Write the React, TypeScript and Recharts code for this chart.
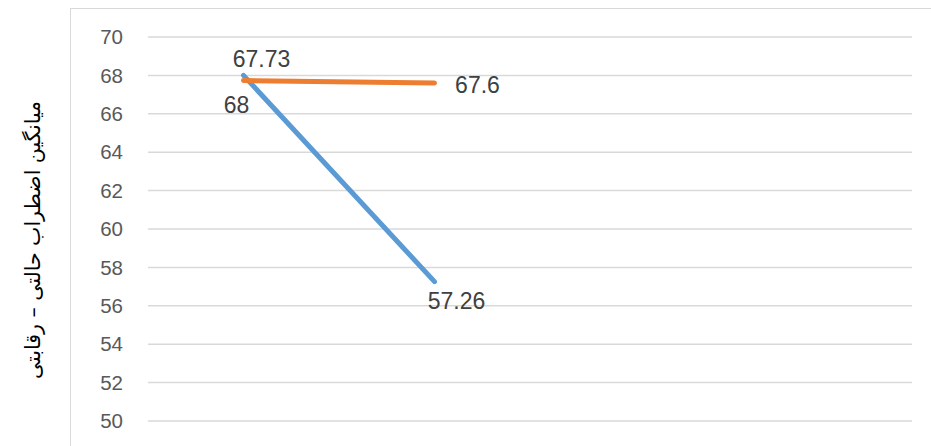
import React from "react";
import { LineChart, Line, XAxis, YAxis, CartesianGrid } from "recharts";

const categories = ["1", "2", "3", "4"];
const blueValues: (number | null)[] = [68, 57.26, null, null];
const orangeValues: (number | null)[] = [67.73, 67.6, null, null];
const yTicks = [50, 52, 54, 56, 58, 60, 62, 64, 66, 68, 70];
const yTitle = "میانگین اضطراب حالتی – رقابتی";

const data = categories.map((c, i) => ({
  name: c,
  blue: blueValues[i],
  orange: orangeValues[i],
}));

const FONT = "'Liberation Sans', Arial, 'DejaVu Sans', sans-serif";

const blueOffsets = [
  { dx: -7, dy: 30 },
  { dx: 22, dy: 19 },
];
const orangeOffsets = [
  { dx: 18, dy: -22 },
  { dx: 43, dy: 2 },
];

const makeLabel = (offsets: { dx: number; dy: number }[]) => (props: any) => {
  const { x, y, value, index } = props;
  if (value == null || x == null || y == null) return null;
  const o = offsets[index] || { dx: 0, dy: -12 };
  return (
    <text
      x={x + o.dx}
      y={y + o.dy}
      textAnchor="middle"
      dominantBaseline="central"
      fontSize={23}
      fontFamily={FONT}
      fill="#404040"
    >
      {value}
    </text>
  );
};

export default function App() {
  return (
    <div style={{ position: "absolute", left: 0, top: 0, width: 931, height: 446, background: "#fff", overflow: "hidden" }}>
      <div
        style={{
          position: "absolute",
          left: 70,
          top: 8,
          width: 900,
          height: 500,
          borderTop: "1.5px solid #d9d9d9",
          borderLeft: "1.5px solid #d9d9d9",
        }}
      />
      <div style={{ position: "absolute", left: 0, top: 0 }}>
        <LineChart width={931} height={446} data={data} margin={{ top: 37, right: 19, bottom: 25, left: 0 }}>
          <CartesianGrid vertical={false} stroke="#d9d9d9" strokeWidth={1.5} />
          <XAxis dataKey="name" hide scale="band" />
          <YAxis
            width={148}
            domain={[50, 70]}
            ticks={yTicks}
            interval={0}
            axisLine={false}
            tickLine={false}
            tickSize={25}
            tickMargin={0}
            tick={{ fontSize: 20.5, fill: "#595959", fontFamily: FONT }}
          />
          <Line
            type="linear"
            dataKey="blue"
            stroke="#5b9bd5"
            strokeWidth={5}
            strokeLinecap="round"
            dot={false}
            isAnimationActive={false}
            label={makeLabel(blueOffsets)}
          />
          <Line
            type="linear"
            dataKey="orange"
            stroke="#ed7d31"
            strokeWidth={5}
            strokeLinecap="round"
            dot={false}
            isAnimationActive={false}
            label={makeLabel(orangeOffsets)}
          />
        </LineChart>
      </div>
      <svg width={80} height={446} style={{ position: "absolute", left: 0, top: 0 }}>
        <text
          x={33}
          y={240}
          transform="rotate(-90 33 240)"
          textAnchor="middle"
          dominantBaseline="central"
          fontSize={20.5}
          fontFamily="'DejaVu Sans', sans-serif"
          fill="#000"
          direction="rtl"
        >
          {yTitle}
        </text>
      </svg>
    </div>
  );
}
